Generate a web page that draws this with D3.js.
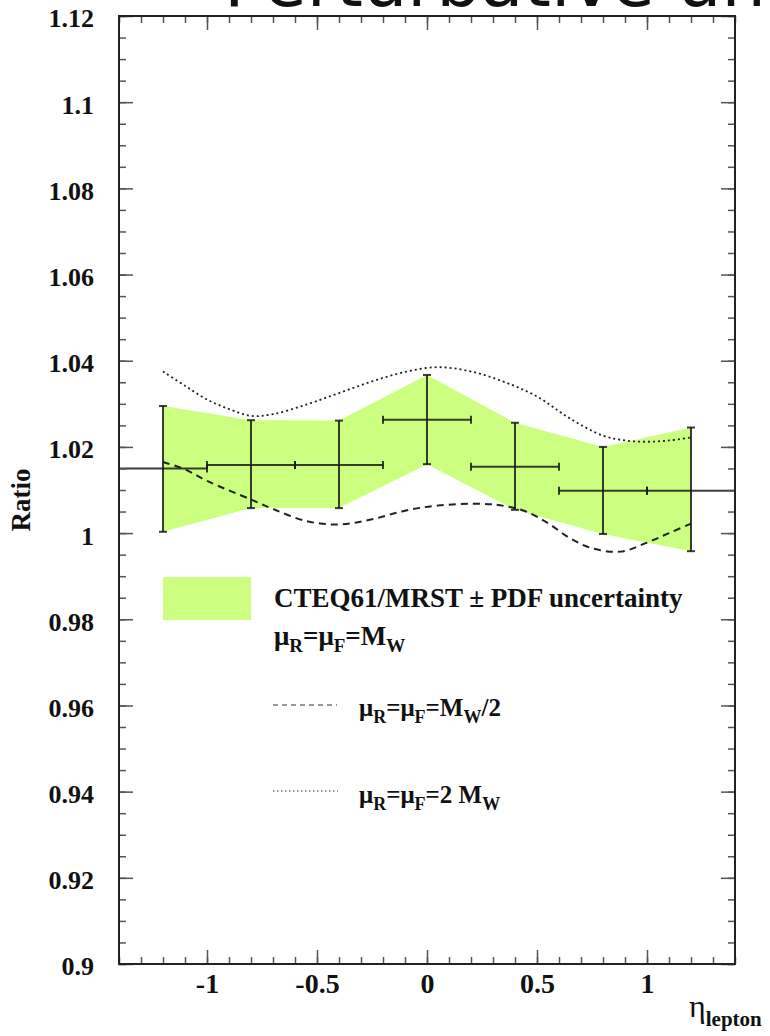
<!DOCTYPE html>
<html lang="en">
<head>
    <meta charset="UTF-8">
    <title>Ratio vs eta lepton</title>
    <script src="https://d3js.org/d3.v7.min.js"></script>
    <style>
        body { margin: 0; background: #fff; }
        svg { display: block; }
        text { font-family: "Liberation Serif", "Times New Roman", serif; font-weight: bold; fill: #111; }
        .title { font-family: "DejaVu Sans", sans-serif; font-weight: normal; }
    </style>
</head>
<body>
    <svg width="770" height="1036"></svg>

    <script>
        // Bins in eta_lepton
        const binLow    = [-1.4, -1.0, -0.6, -0.2, 0.2, 0.6, 1.0];
        const binHigh   = [-1.0, -0.6, -0.2, 0.2, 0.6, 1.0, 1.4];
        const binCenter = [-1.2, -0.8, -0.4, 0.0, 0.4, 0.8, 1.2];

        // Central ratio and PDF uncertainty band
        const ratioCentral = [1.0150, 1.0158, 1.0158, 1.0263, 1.0154, 1.0098, 1.0098];
        const pdfUpper     = [1.0295, 1.0262, 1.0261, 1.0367, 1.0256, 1.0200, 1.0245];
        const pdfLower     = [1.0003, 1.0058, 1.0058, 1.0160, 1.0054, 0.9998, 0.9958];

        // mu_R = mu_F = M_W / 2  (dashed)
        const halfEta   = [-1.2, -1.1, -1.0, -0.8, -0.7, -0.55, -0.4, -0.25, -0.1, 0.05, 0.25, 0.35, 0.45, 0.55, 0.65, 0.75, 0.88, 1.0, 1.1, 1.2];
        const halfRatio = [1.0165, 1.0148, 1.0121, 1.0078, 1.0056, 1.0028, 1.0020, 1.0032, 1.0052, 1.0064, 1.0068, 1.0063, 1.0050, 1.0023, 0.9988, 0.9965, 0.9957, 0.9978, 1.0000, 1.0022];

        // mu_R = mu_F = 2 M_W  (dotted)
        const doubleEta   = [-1.2, -1.1, -1.0, -0.9, -0.8, -0.7, -0.55, -0.4, -0.25, -0.1, 0.05, 0.2, 0.35, 0.5, 0.65, 0.8, 0.9, 1.0, 1.1, 1.2];
        const doubleRatio = [1.0375, 1.0342, 1.0310, 1.0288, 1.0272, 1.0276, 1.0298, 1.0325, 1.0352, 1.0374, 1.0385, 1.0375, 1.0351, 1.0317, 1.0266, 1.0226, 1.0215, 1.0212, 1.0215, 1.0222];

        const xDomain = [-1.4, 1.4];
        const yDomain = [0.9, 1.12];

        const svg = d3.select("svg");
        const margin = { left: 119, right: 35, top: 16, bottom: 72 };
        const width = 770 - margin.left - margin.right,
              height = 1036 - margin.top - margin.bottom;

        const x = d3.scaleLinear().domain(xDomain).range([0, width]);
        const y = d3.scaleLinear().domain(yDomain).range([height, 0]);

        // Title, mostly cut off at the top edge
        svg.append("text")
            .attr("class", "title")
            .attr("x", 224)
            .attr("y", 6)
            .attr("font-size", 70)
            .text("Perturbative uncertainty");

        const g = svg.append("g").attr("transform", `translate(${margin.left},${margin.top})`);

        // PDF band
        const bandData = binCenter.map((c, i) => ({ x: c, lo: pdfLower[i], hi: pdfUpper[i] }));
        g.append("path")
            .datum(bandData)
            .attr("fill", "#ccff80")
            .attr("d", d3.area().x(d => x(d.x)).y0(d => y(d.lo)).y1(d => y(d.hi)));

        // Scale variation curves
        const curve = d3.line().x(d => x(d[0])).y(d => y(d[1])).curve(d3.curveCatmullRom.alpha(0.5));
        g.append("path")
            .datum(d3.zip(halfEta, halfRatio))
            .attr("fill", "none")
            .attr("stroke", "#222")
            .attr("stroke-width", 2)
            .attr("stroke-dasharray", "7,5")
            .attr("d", curve);
        g.append("path")
            .datum(d3.zip(doubleEta, doubleRatio))
            .attr("fill", "none")
            .attr("stroke", "#222")
            .attr("stroke-width", 1.8)
            .attr("stroke-dasharray", "2,3")
            .attr("d", curve);

        // Error bars (bin width and PDF range)
        const pts = binCenter.map((c, i) => ({ c, lo: binLow[i], hi: binHigh[i], v: ratioCentral[i], up: pdfUpper[i], dn: pdfLower[i] }));
        const bars = g.append("g")
            .attr("stroke", "#1a1a1a")
            .attr("stroke-opacity", 0.85)
            .attr("stroke-width", 2);
        const cap = 4;
        pts.forEach(d => {
            bars.append("line").attr("x1", x(d.lo)).attr("x2", x(d.hi)).attr("y1", y(d.v)).attr("y2", y(d.v));
            bars.append("line").attr("x1", x(d.c)).attr("x2", x(d.c)).attr("y1", y(d.dn)).attr("y2", y(d.up));
            [d.lo, d.hi].forEach(e => bars.append("line")
                .attr("x1", x(e)).attr("x2", x(e)).attr("y1", y(d.v) - cap).attr("y2", y(d.v) + cap));
            [d.dn, d.up].forEach(e => bars.append("line")
                .attr("x1", x(d.c) - cap).attr("x2", x(d.c) + cap).attr("y1", y(e)).attr("y2", y(e)));
        });

        // Axes: major ticks with labels, minor ticks, mirrored on top/right
        const fmt = d => String(+d.toFixed(3));
        const xMajor = x.ticks(5), xMinor = x.ticks(28);
        const yMajor = y.ticks(11), yMinor = y.ticks(44);

        const styleAxis = sel => {
            sel.select(".domain").remove();
            sel.selectAll(".tick line").attr("stroke", "#555").attr("stroke-width", 1.5);
        };

        g.append("g").attr("transform", `translate(0,${height})`)
            .call(d3.axisBottom(x).tickValues(xMinor).tickSize(-7).tickFormat(""))
            .call(styleAxis);
        const xAxis = g.append("g").attr("transform", `translate(0,${height})`)
            .call(d3.axisBottom(x).tickValues(xMajor).tickSize(-14).tickPadding(9).tickFormat(fmt))
            .call(styleAxis);
        xAxis.selectAll("text").attr("font-size", 28).attr("fill", "#111")
            .attr("font-family", "Liberation Serif, serif").attr("font-weight", "bold");

        g.append("g")
            .call(d3.axisTop(x).tickValues(xMinor).tickSize(-7).tickFormat(""))
            .call(styleAxis);
        g.append("g")
            .call(d3.axisTop(x).tickValues(xMajor).tickSize(-14).tickFormat(""))
            .call(styleAxis);

        g.append("g")
            .call(d3.axisLeft(y).tickValues(yMinor).tickSize(-7).tickFormat(""))
            .call(styleAxis);
        const yAxis = g.append("g")
            .call(d3.axisLeft(y).tickValues(yMajor).tickSize(-14).tickPadding(25).tickFormat(fmt))
            .call(styleAxis);
        yAxis.selectAll("text").attr("font-size", 26).attr("dy", "0.42em").attr("fill", "#111")
            .attr("font-family", "Liberation Serif, serif").attr("font-weight", "bold");

        g.append("g").attr("transform", `translate(${width},0)`)
            .call(d3.axisRight(y).tickValues(yMinor).tickSize(-7).tickFormat(""))
            .call(styleAxis);
        g.append("g").attr("transform", `translate(${width},0)`)
            .call(d3.axisRight(y).tickValues(yMajor).tickSize(-14).tickFormat(""))
            .call(styleAxis);

        // Frame
        g.append("rect")
            .attr("width", width)
            .attr("height", height)
            .attr("fill", "none")
            .attr("stroke", "#222")
            .attr("stroke-width", 2);

        // Axis titles
        svg.append("text")
            .attr("transform", "translate(30,500) rotate(-90)")
            .attr("text-anchor", "middle")
            .attr("font-size", 27)
            .text("Ratio");

        const etaLabel = svg.append("text")
            .attr("x", 689)
            .attr("y", 1017);
        etaLabel.append("tspan").attr("font-size", 32).attr("font-weight", "normal").text("η");
        etaLabel.append("tspan").attr("font-size", 21).attr("dy", 9).text("lepton");

        // Legend
        function richText(x0, y0, parts, size, subSize) {
            const t = svg.append("text").attr("x", x0).attr("y", y0).attr("font-size", size);
            let down = false;
            parts.forEach(p => {
                const ts = t.append("tspan").text(p[0]).attr("font-size", p[1] ? subSize : size);
                if (p[1] && !down) { ts.attr("dy", 7); down = true; }
                else if (!p[1] && down) { ts.attr("dy", -7); down = false; }
            });
        }

        svg.append("rect")
            .attr("x", 163).attr("y", 577)
            .attr("width", 88).attr("height", 43)
            .attr("fill", "#ccff80");
        svg.append("text")
            .attr("x", 274).attr("y", 607)
            .attr("font-size", 27)
            .text("CTEQ61/MRST ± PDF uncertainty");
        richText(274, 645, [["μ"], ["R", 1], ["=μ"], ["F", 1], ["=M"], ["W", 1]], 27, 19);

        svg.append("line")
            .attr("x1", 273).attr("x2", 337).attr("y1", 705).attr("y2", 705)
            .attr("stroke", "#333").attr("stroke-width", 1).attr("stroke-dasharray", "5,4");
        richText(359, 716, [["μ"], ["R", 1], ["=μ"], ["F", 1], ["=M"], ["W", 1], ["/2"]], 25, 18);

        svg.append("line")
            .attr("x1", 273).attr("x2", 338).attr("y1", 791).attr("y2", 791)
            .attr("stroke", "#333").attr("stroke-width", 1).attr("stroke-dasharray", "1.5,2.5");
        richText(359, 803, [["μ"], ["R", 1], ["=μ"], ["F", 1], ["=2 M"], ["W", 1]], 25, 18);
    </script>
</body>
</html>
